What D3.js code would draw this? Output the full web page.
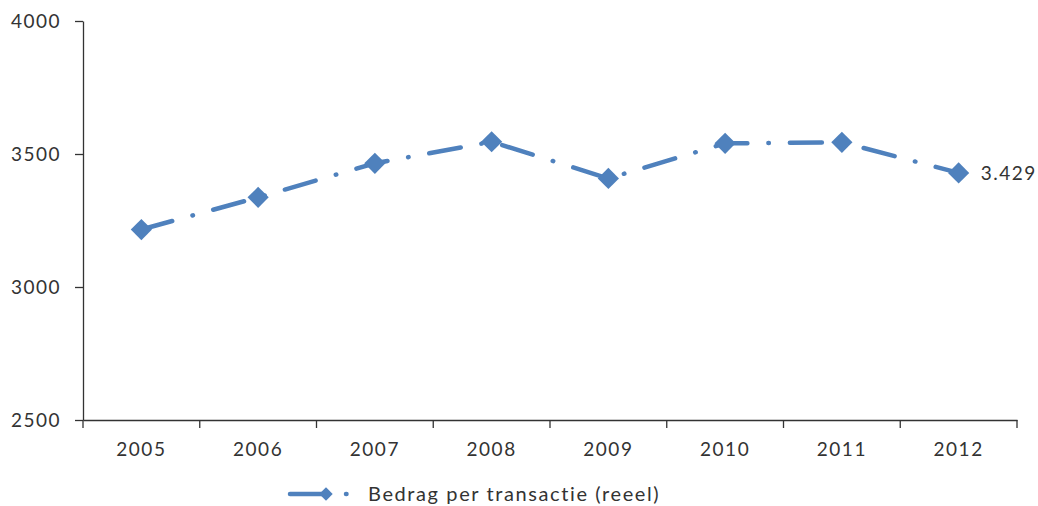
<!DOCTYPE html>
<html>
<head>
<meta charset="utf-8">
<script src="https://cdn.jsdelivr.net/npm/d3@7"></script>
<style>
  body { margin: 0; background: #fff; }
  text { font-family: Lato, "Open Sans", sans-serif; fill: #333; }
  .axis path, .axis line { stroke: #333; stroke-width: 1.3; }
</style>
</head>
<body>
<div id="chart"></div>
<script>
// data
const years = ["2005", "2006", "2007", "2008", "2009", "2010", "2011", "2012"];
const amounts = [3216, 3337, 3465, 3546, 3408, 3540, 3544, 3429];
const yTicks = [2500, 3000, 3500, 4000];
const seriesName = "Bedrag per transactie (reeel)";
const endLabel = "3.429";

const width = 1038, height = 506;
const margin = {top: 21, right: 21, bottom: 86, left: 83};
const blue = "#4f81bd";
const dash = "32,21,0.5,21";

let svg = d3.select("#chart").append("svg")
    .attr("width", width)
    .attr("height", height);

// scales
let x = d3.scaleBand()
    .domain(years)
    .range([margin.left, width - margin.right]);

let y = d3.scaleLinear()
    .domain([2500, 4000])
    .range([height - margin.bottom, margin.top]);

// y axis
let yAxis = d3.axisLeft(y)
    .tickValues(yTicks)
    .tickFormat(d3.format("d"))
    .tickSize(8)
    .tickSizeOuter(0)
    .tickPadding(14);

svg.append("g")
    .attr("class", "axis y-axis")
    .attr("transform", `translate(${margin.left},0)`)
    .call(yAxis)
    .selectAll("text")
    .style("font-size", "19px")
    .style("letter-spacing", "1.5px");

// x axis, labels in the middle of each band
let xAxis = d3.axisBottom(x)
    .tickSize(0)
    .tickSizeOuter(0)
    .tickPadding(23);

let xg = svg.append("g")
    .attr("class", "axis x-axis")
    .attr("transform", `translate(0,${y(2500)})`)
    .call(xAxis);
xg.selectAll("text")
    .style("font-size", "19px")
    .style("letter-spacing", "1.5px");

// tick marks on band borders
let borders = years.map(d => x(d)).concat([x.range()[1]]);
xg.selectAll(".border-tick")
    .data(borders)
    .enter().append("line")
    .attr("class", "border-tick")
    .attr("x1", d => d).attr("x2", d => d)
    .attr("y1", 0).attr("y2", 8);

// the line
let line = d3.line()
    .x((d, i) => x(years[i]) + x.bandwidth() / 2)
    .y(d => y(d));

svg.append("path")
    .datum(amounts)
    .attr("fill", "none")
    .attr("stroke", blue)
    .attr("stroke-width", 4.5)
    .attr("stroke-linecap", "round")
    .attr("stroke-dasharray", dash)
    .attr("d", line);

// diamond markers
let diamond = d3.symbol().type(d3.symbolSquare).size(225);

svg.selectAll(".marker")
    .data(amounts)
    .enter().append("path")
    .attr("class", "marker")
    .attr("d", diamond)
    .attr("fill", blue)
    .attr("transform", (d, i) => `translate(${x(years[i]) + x.bandwidth() / 2},${y(d)}) rotate(45)`);

// value label at the last point
let last = amounts.length - 1;
svg.append("text")
    .attr("x", x(years[last]) + x.bandwidth() / 2 + 22)
    .attr("y", y(amounts[last]) + 7)
    .style("font-size", "19px")
    .style("letter-spacing", "1.5px")
    .text(endLabel);

// legend
let legend = svg.append("g")
    .attr("transform", "translate(290,494)");

legend.append("line")
    .attr("x1", 0).attr("x2", 60)
    .attr("y1", 0).attr("y2", 0)
    .attr("stroke", blue)
    .attr("stroke-width", 4.5)
    .attr("stroke-linecap", "round")
    .attr("stroke-dasharray", "34,22,0.5,22");

legend.append("path")
    .attr("d", d3.symbol().type(d3.symbolSquare).size(90))
    .attr("fill", blue)
    .attr("transform", "translate(36,0) rotate(45)");

legend.append("text")
    .attr("x", 78)
    .attr("y", 7)
    .style("font-size", "20px")
    .style("letter-spacing", "1.6px")
    .text(seriesName);
</script>
</body>
</html>
